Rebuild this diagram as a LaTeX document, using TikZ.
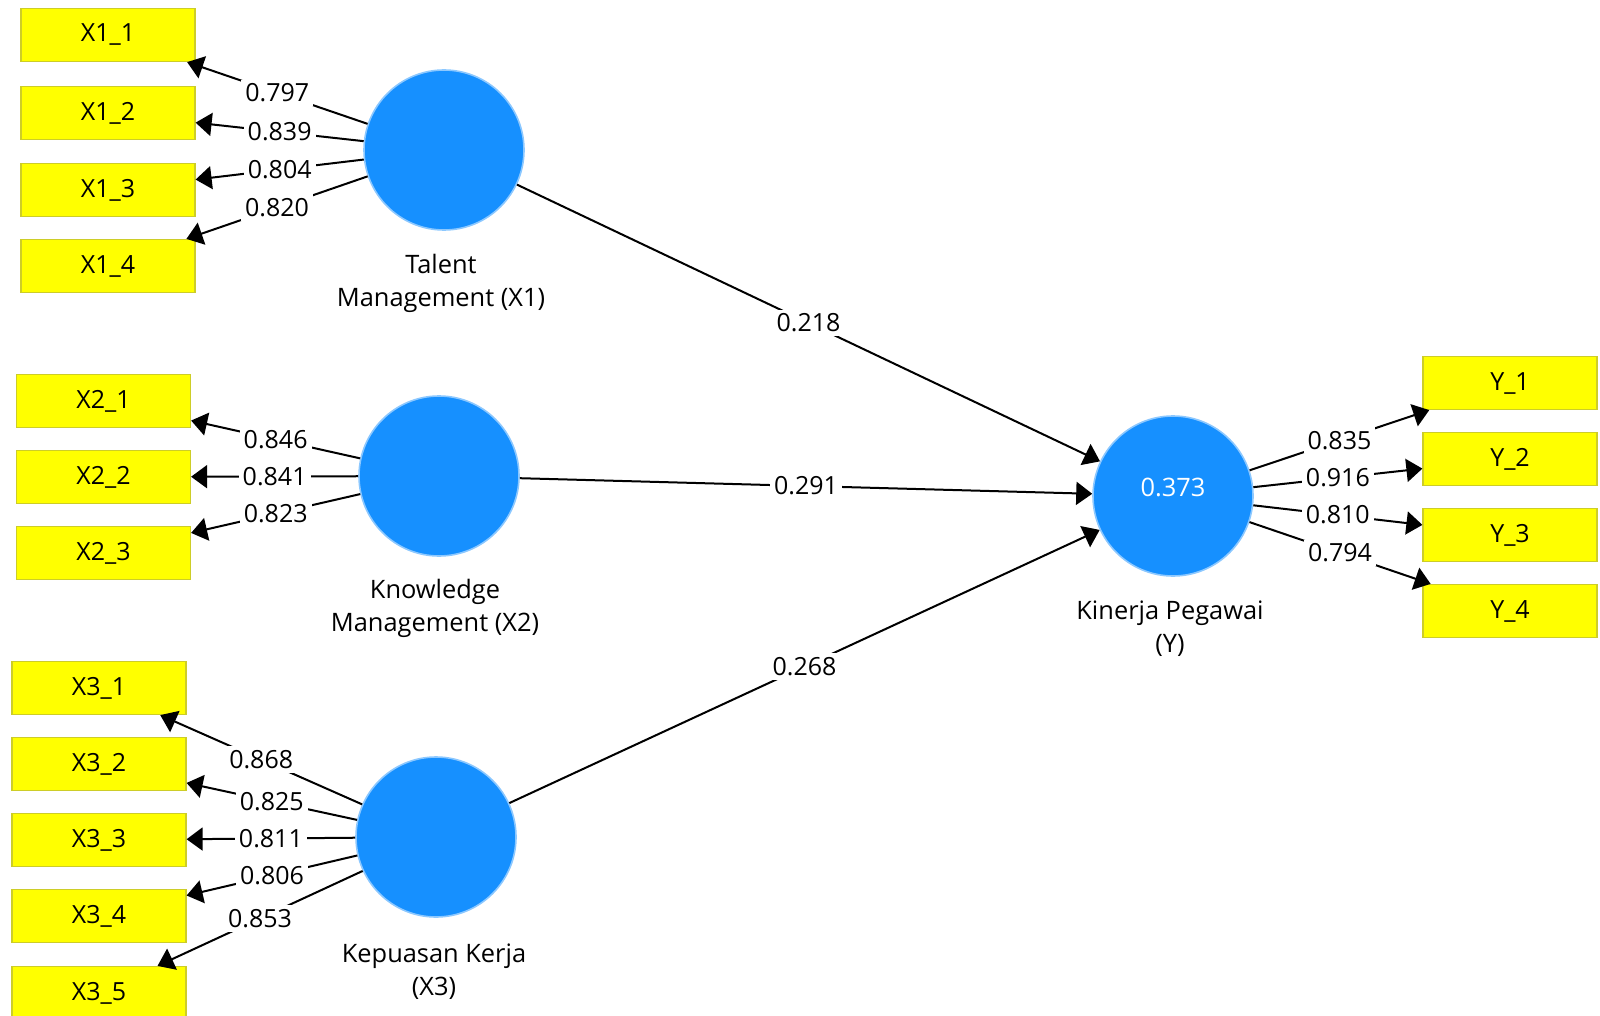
\documentclass[tikz,border=0pt]{standalone}
\usepackage{fontspec}
\setmainfont{Open Sans}
\usepackage{tikz}
\usetikzlibrary{positioning,arrows.meta}
\usepackage{xcolor}
\definecolor{LatentBlue}{RGB}{22,144,255}
\definecolor{LatentEdge}{RGB}{140,200,255}
\definecolor{ItemYellow}{RGB}{255,255,0}
\definecolor{ItemEdge}{RGB}{205,205,40}

\begin{document}
\begin{tikzpicture}[x=0.5pt, y=-0.5pt,
    indicator/.style={rectangle, draw=ItemEdge, line width=0.6pt, fill=ItemYellow, minimum width=87pt, minimum height=26.5pt, inner sep=0pt, font=\fontsize{12.5}{15}\selectfont},
    latent/.style={circle, draw=LatentEdge, line width=0.8pt, fill=LatentBlue, minimum size=80pt, inner sep=0pt},
    caption/.style={align=center, font=\fontsize{12.7}{16.5}\selectfont},
    link/.style={line width=1pt, -{Triangle[length=8pt,width=11.5pt]}},
    coef/.style={fill=white, inner sep=2pt, font=\fontsize{12.5}{15}\selectfont},
]
\useasboundingbox (0,0) rectangle (1600,1016);

\node[latent] (tm) at (444,150) {};
\node[latent] (km) at (439,476) {};
\node[latent] (kk) at (436,837) {};
\node[latent] (kp) at (1173,496) {};
\node[text=white, font=\fontsize{12.7}{15}\selectfont] (kpr2) at (1173,487) {0.373};

\node[caption] (tmcap) at (441,283) {Talent\\Management (X1)};
\node[caption] (kmcap) at (435,608) {Knowledge\\Management (X2)};
\node[caption] (kkcap) at (434,972) {Kepuasan Kerja\\(X3)};
\node[caption] (kpcap) at (1170,629) {Kinerja Pegawai\\(Y)};

\foreach \n/\y/\v in {1/35/0.797, 2/113/0.839, 3/190/0.804, 4/266/0.820} {
    \node[indicator] (x1\n) at (108,\y) {X1\_\n};
    \draw[link] (tm) -- (x1\n) node[coef, midway] {\v};
}
\foreach \n/\y/\v in {1/401/0.846, 2/477/0.841, 3/553/0.823} {
    \node[indicator] (x2\n) at (103.5,\y) {X2\_\n};
    \draw[link] (km) -- (x2\n) node[coef, midway] {\v};
}
\foreach \n/\y/\v in {1/688/0.868, 2/764/0.825, 3/840/0.811, 4/916/0.806, 5/993/0.853} {
    \node[indicator] (x3\n) at (99,\y) {X3\_\n};
    \draw[link] (kk) -- (x3\n) node[coef, midway] {\v};
}
\foreach \n/\y/\v in {1/383/0.835, 2/459/0.916, 3/535/0.810, 4/611/0.794} {
    \node[indicator] (y\n) at (1510,\y) {Y\_\n};
    \draw[link] (kp) -- (y\n) node[coef, midway] {\v};
}

\draw[link] (tm) -- (kp) node[coef, midway] {0.218};
\draw[link] (km) -- (kp) node[coef, midway] {0.291};
\draw[link] (kk) -- (kp) node[coef, midway] {0.268};
\end{tikzpicture}
\end{document}
